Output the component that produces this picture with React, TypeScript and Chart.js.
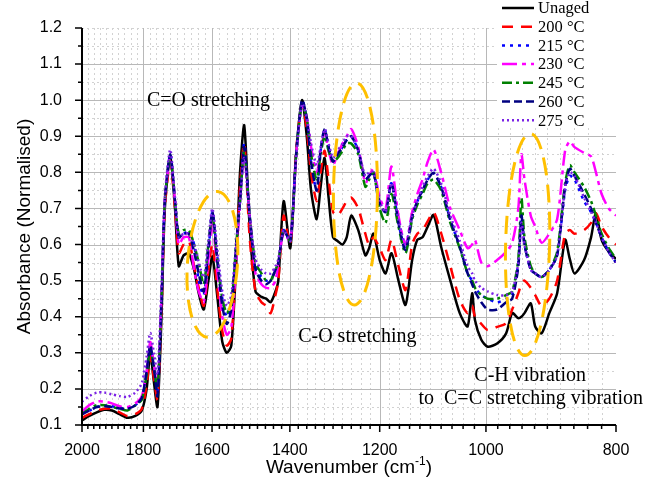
import React, { useEffect, useRef } from 'react';
import { Chart, registerables } from 'chart.js';

Chart.register(...registerables);

// ---------- DATA ----------
const WAVENUMBERS = [
  2000, 1975, 1950, 1925, 1900, 1875, 1850, 1825, 1805, 1790,
  1779, 1768, 1757, 1745, 1735, 1719, 1705, 1694, 1680, 1665,
  1650, 1637, 1623, 1610, 1599, 1585, 1572, 1560, 1548, 1535,
  1525, 1514, 1500, 1485, 1470, 1458, 1447, 1435, 1428, 1415,
  1399, 1385, 1371, 1360, 1350, 1337, 1328, 1319, 1310, 1300,
  1290, 1279, 1270, 1260, 1245, 1230, 1222, 1213, 1200, 1188,
  1176, 1162, 1148, 1135, 1125, 1115, 1105, 1094, 1080, 1063,
  1046, 1032, 1024, 1019, 1008, 997, 981, 966, 956, 946,
  941, 936, 926, 919, 909, 897, 885, 873, 866, 859,
  845, 835, 828, 820, 810, 800,
];

const UNAGED = [
  0.113, 0.125, 0.135, 0.142, 0.14, 0.13, 0.12, 0.125, 0.14, 0.2,
  0.3, 0.22, 0.15, 0.4, 0.7, 0.845, 0.7, 0.54, 0.57, 0.575,
  0.53, 0.465, 0.42, 0.5, 0.567, 0.45, 0.33, 0.3, 0.32, 0.55,
  0.8, 0.93, 0.65, 0.47, 0.455, 0.45, 0.44, 0.47, 0.5, 0.72,
  0.59, 0.85, 1.0, 0.9, 0.75, 0.67, 0.76, 0.84, 0.73, 0.62,
  0.61, 0.6, 0.62, 0.68, 0.64, 0.57, 0.59, 0.63, 0.557, 0.52,
  0.576, 0.5, 0.433, 0.557, 0.613, 0.62, 0.65, 0.682, 0.594, 0.5,
  0.41, 0.373, 0.465, 0.39, 0.336, 0.317, 0.326, 0.354, 0.41, 0.396,
  0.4, 0.41, 0.437, 0.373, 0.354, 0.41, 0.465, 0.613, 0.56, 0.52,
  0.557, 0.62, 0.687, 0.613, 0.58, 0.56,
];

const T200 = [
  0.12, 0.13, 0.14, 0.145, 0.145, 0.135, 0.125, 0.13, 0.145, 0.21,
  0.29, 0.23, 0.17, 0.42, 0.7, 0.83, 0.7, 0.576, 0.6, 0.61,
  0.54, 0.48, 0.43, 0.53, 0.6, 0.47, 0.36, 0.32, 0.34, 0.56,
  0.76, 0.88, 0.62, 0.47, 0.44, 0.43, 0.41, 0.46, 0.5, 0.68,
  0.6, 0.86, 0.99, 0.92, 0.8, 0.72, 0.8, 0.86, 0.78, 0.69,
  0.68, 0.7, 0.72, 0.73, 0.7, 0.63, 0.6, 0.62, 0.59, 0.557,
  0.613, 0.54, 0.474, 0.6, 0.63, 0.64, 0.665, 0.69, 0.632, 0.54,
  0.447, 0.41, 0.43, 0.4, 0.38, 0.363, 0.372, 0.382, 0.42, 0.465,
  0.49, 0.5, 0.48, 0.46, 0.43, 0.45, 0.5, 0.63, 0.64, 0.63,
  0.64, 0.66, 0.687, 0.65, 0.62, 0.6,
];

const T215 = [
  0.13, 0.14, 0.15, 0.155, 0.152, 0.148, 0.145, 0.155, 0.175, 0.25,
  0.32, 0.26, 0.19, 0.45, 0.72, 0.85, 0.72, 0.62, 0.63, 0.635,
  0.6, 0.5, 0.46, 0.58, 0.69, 0.56, 0.45, 0.4, 0.43, 0.6,
  0.72, 0.88, 0.68, 0.54, 0.51, 0.5, 0.5, 0.53, 0.55, 0.64,
  0.61, 0.85, 1.0, 0.95, 0.83, 0.75, 0.86, 0.92, 0.87, 0.83,
  0.85, 0.87, 0.89, 0.9, 0.86, 0.78, 0.79, 0.8, 0.715, 0.69,
  0.77, 0.66, 0.585, 0.678, 0.72, 0.75, 0.78, 0.798, 0.76, 0.668,
  0.594, 0.52, 0.5, 0.48, 0.46, 0.45, 0.44, 0.45, 0.46, 0.55,
  0.68, 0.6, 0.53, 0.52, 0.51, 0.53, 0.57, 0.75, 0.79, 0.78,
  0.72, 0.69, 0.66, 0.62, 0.58, 0.55,
];

const T230 = [
  0.137, 0.155, 0.165, 0.165, 0.16, 0.152, 0.15, 0.16, 0.18, 0.25,
  0.33, 0.27, 0.2, 0.46, 0.72, 0.84, 0.72, 0.6, 0.62, 0.62,
  0.53, 0.47, 0.44, 0.56, 0.66, 0.52, 0.4, 0.35, 0.37, 0.55,
  0.72, 0.85, 0.68, 0.52, 0.49, 0.48, 0.48, 0.5, 0.55, 0.63,
  0.61, 0.85, 0.99, 0.95, 0.87, 0.8, 0.86, 0.91, 0.86, 0.82,
  0.85, 0.88, 0.9, 0.92, 0.87, 0.77, 0.79, 0.81, 0.73, 0.7,
  0.816, 0.68, 0.6, 0.69, 0.74, 0.78, 0.83, 0.863, 0.8, 0.7,
  0.64, 0.59, 0.6, 0.613, 0.55, 0.54, 0.557, 0.58, 0.604, 0.7,
  0.85, 0.78, 0.68, 0.65, 0.605, 0.63, 0.67, 0.86, 0.886, 0.87,
  0.854, 0.844, 0.8, 0.74, 0.7, 0.68,
];

const T245 = [
  0.13, 0.145, 0.155, 0.155, 0.15, 0.145, 0.14, 0.155, 0.17, 0.24,
  0.31, 0.26, 0.2, 0.45, 0.72, 0.845, 0.72, 0.63, 0.64, 0.64,
  0.6, 0.55, 0.49, 0.6, 0.68, 0.55, 0.45, 0.41, 0.44, 0.6,
  0.72, 0.86, 0.68, 0.55, 0.52, 0.5, 0.5, 0.53, 0.55, 0.64,
  0.61, 0.85, 0.99, 0.95, 0.85, 0.78, 0.85, 0.9, 0.86, 0.83,
  0.84, 0.86, 0.88, 0.88, 0.85, 0.76, 0.78, 0.8, 0.7, 0.66,
  0.74, 0.65, 0.576, 0.67, 0.71, 0.74, 0.77, 0.78, 0.75, 0.66,
  0.59, 0.52, 0.5, 0.48, 0.46, 0.45, 0.45, 0.46, 0.47, 0.56,
  0.73, 0.62, 0.54, 0.52, 0.51, 0.53, 0.58, 0.77, 0.82, 0.8,
  0.76, 0.72, 0.68, 0.63, 0.59, 0.56,
];

const T260 = [
  0.13, 0.14, 0.15, 0.152, 0.15, 0.146, 0.145, 0.155, 0.175, 0.25,
  0.32, 0.26, 0.18, 0.44, 0.72, 0.85, 0.72, 0.62, 0.63, 0.63,
  0.58, 0.52, 0.47, 0.59, 0.69, 0.55, 0.43, 0.38, 0.42, 0.6,
  0.72, 0.87, 0.68, 0.53, 0.5, 0.49, 0.5, 0.53, 0.55, 0.64,
  0.61, 0.85, 1.0, 0.95, 0.83, 0.75, 0.86, 0.92, 0.87, 0.83,
  0.85, 0.87, 0.89, 0.9, 0.86, 0.78, 0.79, 0.8, 0.715, 0.69,
  0.77, 0.66, 0.585, 0.678, 0.72, 0.75, 0.78, 0.798, 0.76, 0.668,
  0.594, 0.52, 0.49, 0.47, 0.44, 0.42, 0.42, 0.44, 0.45, 0.54,
  0.68, 0.6, 0.53, 0.52, 0.51, 0.53, 0.57, 0.76, 0.81, 0.79,
  0.74, 0.7, 0.66, 0.62, 0.58, 0.55,
];

const T275 = [
  0.165, 0.18, 0.19, 0.19, 0.185, 0.18, 0.178, 0.19, 0.216, 0.29,
  0.355, 0.3, 0.24, 0.48, 0.73, 0.863, 0.73, 0.62, 0.63, 0.63,
  0.6, 0.55, 0.51, 0.61, 0.7, 0.58, 0.47, 0.43, 0.46, 0.6,
  0.72, 0.84, 0.68, 0.56, 0.53, 0.52, 0.52, 0.54, 0.56, 0.64,
  0.61, 0.84, 0.99, 0.95, 0.88, 0.82, 0.87, 0.92, 0.88, 0.84,
  0.86, 0.88, 0.9, 0.9, 0.86, 0.79, 0.8, 0.8, 0.72, 0.69,
  0.77, 0.67, 0.6, 0.68, 0.72, 0.76, 0.79, 0.81, 0.77, 0.68,
  0.61, 0.54, 0.52, 0.5, 0.48, 0.47, 0.46, 0.46, 0.47, 0.55,
  0.66, 0.6, 0.53, 0.52, 0.51, 0.53, 0.57, 0.76, 0.8, 0.79,
  0.73, 0.69, 0.66, 0.62, 0.58, 0.55,
];

const SERIES_LABELS = ['Unaged', '200 °C', '215 °C', '230 °C', '245 °C', '260 °C', '275 °C'];
const SERIES_VALUES = [UNAGED, T200, T215, T230, T245, T260, T275];

const X_TICKS = [2000, 1800, 1600, 1400, 1200, 1000, 800];
const Y_TICKS = [0.1, 0.2, 0.3, 0.4, 0.5, 0.6, 0.7, 0.8, 0.9, 1.0, 1.1, 1.2];

const X_TITLE = 'Wavenumber (cm';
const X_TITLE_SUP = '-1';
const Y_TITLE = 'Absorbance (Normalised)';

// annotations (data coordinates)
const ELLIPSES = [
  { wn: 1599, ab: 0.545, rx: 25, ry: 73, rot: 0.07 },
  { wn: 1251, ab: 0.74, rx: 22, ry: 111, rot: 0.01 },
  { wn: 931, ab: 0.6, rx: 22, ry: 111, rot: 0.025 },
];
const NOTES = [
  { wn: 1610, ab: 0.998, text: 'C=O stretching' },
  { wn: 1247, ab: 0.344, text: 'C-O stretching' },
  { wn: 927, ab: 0.236, text: 'C-H vibration' },
  { wn: 926, ab: 0.172, text: 'to  C=C stretching vibration' },
];

// ---------- STYLES ----------
const STYLES = [
  { color: '#000000', dash: [] as number[] },
  { color: '#ff0000', dash: [11, 8] },
  { color: '#0000ff', dash: [3, 5] },
  { color: '#ff00ff', dash: [15, 5, 4, 5] },
  { color: '#008000', dash: [10, 4, 3, 4] },
  { color: '#000080', dash: [8, 4] },
  { color: '#7b22e6', dash: [2, 3] },
];

const SANS = "'Liberation Sans', Arial, sans-serif";
const SERIF = "'Liberation Serif', 'Times New Roman', serif";

const decorPlugin = {
  id: 'decor',
  beforeDatasetsDraw(chart: any) {
    const { ctx, chartArea: a, scales } = chart;
    const x = scales.x;
    const y = scales.y;
    ctx.save();
    ctx.lineWidth = 1;
    // minor grid
    ctx.strokeStyle = '#d2d2d2';
    ctx.setLineDash([2, 3]);
    ctx.beginPath();
    for (let v = 1980; v > 800; v -= 20) {
      if (v % 200 === 0) continue;
      const px = Math.round(x.getPixelForValue(v)) + 0.5;
      ctx.moveTo(px, a.top);
      ctx.lineTo(px, a.bottom);
    }
    for (let k = 0; k <= 10; k++) {
      const v = 0.15 + 0.1 * k;
      const py = Math.round(y.getPixelForValue(v)) + 0.5;
      ctx.moveTo(a.left, py);
      ctx.lineTo(a.right, py);
    }
    const pt = Math.round(y.getPixelForValue(1.2)) + 0.5;
    ctx.moveTo(a.left, pt);
    ctx.lineTo(a.right, pt);
    ctx.stroke();
    // major grid
    ctx.setLineDash([]);
    ctx.strokeStyle = '#b8b8b8';
    ctx.beginPath();
    X_TICKS.slice(1, -1).forEach((v) => {
      const px = Math.round(x.getPixelForValue(v)) + 0.5;
      ctx.moveTo(px, a.top);
      ctx.lineTo(px, a.bottom);
    });
    Y_TICKS.slice(1, -1).forEach((v) => {
      const py = Math.round(y.getPixelForValue(v)) + 0.5;
      ctx.moveTo(a.left, py);
      ctx.lineTo(a.right, py);
    });
    ctx.stroke();
    ctx.restore();
  },
  afterDatasetsDraw(chart: any) {
    const { ctx, chartArea: a, scales } = chart;
    const x = scales.x;
    const y = scales.y;
    ctx.save();
    // axes
    ctx.setLineDash([]);
    ctx.strokeStyle = '#000';
    ctx.lineWidth = 2;
    ctx.beginPath();
    ctx.moveTo(a.left, a.top);
    ctx.lineTo(a.left, a.bottom);
    ctx.lineTo(a.right, a.bottom);
    ctx.stroke();
    ctx.lineWidth = 1.5;
    ctx.beginPath();
    for (let v = 2000; v >= 800; v -= 20) {
      const px = x.getPixelForValue(v);
      const len = v % 200 === 0 ? 7 : 4;
      ctx.moveTo(px, a.bottom);
      ctx.lineTo(px, a.bottom + len);
    }
    for (let k = 0; k <= 22; k++) {
      const v = 0.1 + 0.05 * k;
      const py = y.getPixelForValue(v);
      const len = k % 2 === 0 ? 7 : 4;
      ctx.moveTo(a.left, py);
      ctx.lineTo(a.left - len, py);
    }
    ctx.stroke();

    // ellipses
    ctx.strokeStyle = '#ffc000';
    ctx.lineWidth = 3;
    ctx.setLineDash([18, 9]);
    ELLIPSES.forEach((e) => {
      ctx.beginPath();
      ctx.ellipse(x.getPixelForValue(e.wn), y.getPixelForValue(e.ab), e.rx, e.ry, e.rot, 0, Math.PI * 2);
      ctx.stroke();
    });
    ctx.setLineDash([]);

    // notes
    ctx.fillStyle = '#000';
    ctx.font = `20px ${SERIF}`;
    ctx.textAlign = 'center';
    ctx.textBaseline = 'middle';
    NOTES.forEach((n) => {
      ctx.fillText(n.text, x.getPixelForValue(n.wn), y.getPixelForValue(n.ab));
    });

    // x title with superscript
    const cx = (a.left + a.right) / 2;
    const base = 473;
    ctx.font = `19px ${SANS}`;
    const w1 = ctx.measureText(X_TITLE).width;
    const w3 = ctx.measureText(')').width;
    ctx.font = `12px ${SANS}`;
    const w2 = ctx.measureText(X_TITLE_SUP).width;
    let sx = cx - (w1 + w2 + w3) / 2;
    ctx.textAlign = 'left';
    ctx.textBaseline = 'alphabetic';
    ctx.font = `19px ${SANS}`;
    ctx.fillText(X_TITLE, sx, base);
    sx += w1;
    ctx.font = `12px ${SANS}`;
    ctx.fillText(X_TITLE_SUP, sx, base - 8);
    sx += w2;
    ctx.font = `19px ${SANS}`;
    ctx.fillText(')', sx, base);

    // legend
    ctx.fillStyle = '#ffffff';
    ctx.fillRect(497, 0, 125, 126);
    ctx.font = `16.5px ${SERIF}`;
    ctx.textBaseline = 'middle';
    ctx.textAlign = 'left';
    chart.data.datasets.forEach((ds: any, i: number) => {
      const ry = 8 + i * 18.7;
      ctx.strokeStyle = ds.borderColor;
      ctx.lineWidth = 2.5;
      ctx.setLineDash(ds.borderDash || []);
      ctx.beginPath();
      ctx.moveTo(502, ry);
      ctx.lineTo(534, ry);
      ctx.stroke();
      ctx.setLineDash([]);
      ctx.fillStyle = '#000';
      ctx.fillText(ds.label, 538, ry + 1);
    });
    ctx.restore();
  },
};

export default function App() {
  const ref = useRef<HTMLCanvasElement>(null);
  useEffect(() => {
    document.body.style.margin = '0';
    const canvas = ref.current;
    if (!canvas) return;
    const datasets = SERIES_VALUES.map((vals, i) => ({
      label: SERIES_LABELS[i],
      data: WAVENUMBERS.map((w, j) => ({ x: w, y: vals[j] })),
      borderColor: STYLES[i].color,
      backgroundColor: STYLES[i].color,
      borderDash: STYLES[i].dash,
      borderWidth: 2.5,
      borderCapStyle: 'butt' as const,
      pointRadius: 0,
      tension: 0.25,
      fill: false,
      order: SERIES_LABELS.length - i,
    }));
    const chart = new Chart(canvas, {
      type: 'line',
      data: { datasets },
      plugins: [decorPlugin],
      options: {
        animation: false,
        responsive: true,
        maintainAspectRatio: false,
        layout: { padding: { left: 0, right: 41, top: 28, bottom: 0 } },
        plugins: { legend: { display: false }, tooltip: { enabled: false } },
        scales: {
          x: {
            type: 'logarithmic',
            reverse: true,
            min: 800,
            max: 2000,
            afterBuildTicks: (s: any) => {
              s.ticks = X_TICKS.map((v) => ({ value: v }));
            },
            afterFit: (s: any) => {
              s.height = 70;
            },
            grid: { display: false },
            border: { display: false },
            ticks: {
              autoSkip: false,
              maxRotation: 0,
              padding: 8,
              color: '#000',
              font: { family: SANS, size: 16 },
              callback: (v: any) => String(v),
            },
          },
          y: {
            type: 'linear',
            min: 0.1,
            max: 1.2,
            afterBuildTicks: (s: any) => {
              s.ticks = Y_TICKS.map((v) => ({ value: v }));
            },
            afterFit: (s: any) => {
              s.width = 82;
            },
            grid: { display: false },
            border: { display: false },
            ticks: {
              padding: 12,
              color: '#000',
              font: { family: SANS, size: 16 },
              callback: (v: any) => Number(v).toFixed(1),
            },
            title: {
              display: true,
              text: Y_TITLE,
              color: '#000',
              font: { family: SANS, size: 19 },
              padding: { top: 13, bottom: 0 },
            },
          },
        },
      },
    });
    return () => chart.destroy();
  }, []);
  return (
    <div style={{ width: 657, height: 495, position: 'relative', background: '#fff' }}>
      <canvas ref={ref} />
    </div>
  );
}
